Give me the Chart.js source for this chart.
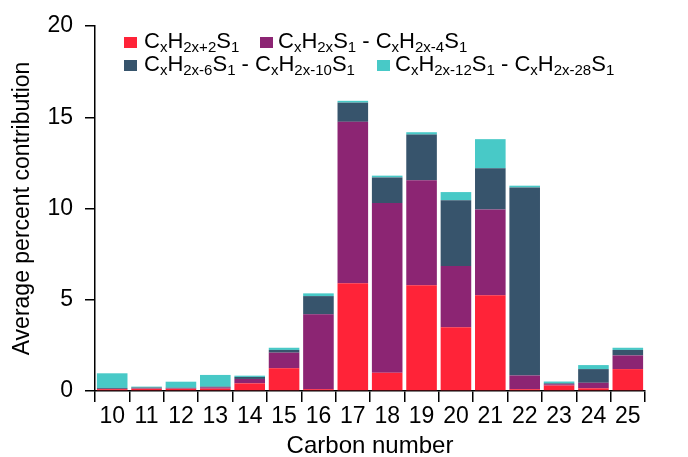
<!DOCTYPE html>
<html>
<head>
<meta charset="utf-8">
<script src="https://cdn.jsdelivr.net/npm/chart.js@4"></script>
<style>
  html, body { margin: 0; padding: 0; background: #fff; }
  #wrap { position: relative; width: 688px; height: 457px; }
  #legend { position: absolute; left: 0; top: 0; font-family: "Liberation Sans", Arial, sans-serif; color: #000; }
  .item { position: absolute; white-space: nowrap; font-size: 22px; line-height: 22px; }
  .item sub { font-size: 15px; vertical-align: -4px; line-height: 0; }
  .box { position: absolute; width: 13px; height: 11px; }
</style>
</head>
<body>
<div id="wrap">
  <canvas id="chart" width="688" height="457"></canvas>
  <div id="legend"></div>
</div>
<script>
// Carbon number categories
const carbonNumbers = ['10', '11', '12', '13', '14', '15', '16', '17', '18', '19', '20', '21', '22', '23', '24', '25'];

// Series names (HTML for subscripts) and colours
const seriesNames = [
  'C<sub>x</sub>H<sub>2x+2</sub>S<sub>1</sub>',
  'C<sub>x</sub>H<sub>2x</sub>S<sub>1</sub> - C<sub>x</sub>H<sub>2x-4</sub>S<sub>1</sub>',
  'C<sub>x</sub>H<sub>2x-6</sub>S<sub>1</sub> - C<sub>x</sub>H<sub>2x-10</sub>S<sub>1</sub>',
  'C<sub>x</sub>H<sub>2x-12</sub>S<sub>1</sub> - C<sub>x</sub>H<sub>2x-28</sub>S<sub>1</sub>'
];
const seriesColors = ['#FF2338', '#8C2573', '#37546C', '#48C9C7'];

// Average percent contribution per series (stacked bottom to top)
const saturated = [0.10, 0.12, 0.12, 0.13, 0.42, 1.25, 0.10, 5.90, 1.00, 5.80, 3.50, 5.25, 0.10, 0.30, 0.15, 1.20];
const dbe1to3   = [0.02, 0.02, 0.02, 0.07, 0.24, 0.85, 4.10, 8.85, 9.30, 5.75, 3.35, 4.70, 0.75, 0.07, 0.30, 0.75];
const dbe4to6   = [0.05, 0.05, 0.04, 0.04, 0.11, 0.15, 1.00, 1.05, 1.40, 2.50, 3.60, 2.25, 10.30, 0.05, 0.75, 0.30];
const dbe7to15  = [0.80, 0.05, 0.33, 0.64, 0.07, 0.12, 0.15, 0.10, 0.10, 0.13, 0.45, 1.60, 0.10, 0.10, 0.22, 0.12];

const yTicks = [0, 5, 10, 15, 20];

const seriesValues = [saturated, dbe1to3, dbe4to6, dbe7to15];

// Legend layout
const legendSlots = [
  { box: 124, text: 144, top: 30 },
  { box: 260, text: 278, top: 30 },
  { box: 124, text: 144, top: 53 },
  { box: 377, text: 395, top: 53 }
];

const legend = document.getElementById('legend');
legend.innerHTML = seriesNames.map((name, i) => {
  const s = legendSlots[i];
  return `<div class="box" style="left:${s.box}px;top:${s.top + 7}px;background:${seriesColors[i]}"></div>` +
         `<div class="item" style="left:${s.text}px;top:${s.top}px">${name}</div>`;
}).join('');

const font = 'Liberation Sans, Arial, sans-serif';

new Chart(document.getElementById('chart'), {
  type: 'bar',
  data: {
    labels: carbonNumbers,
    datasets: seriesValues.map((vals, i) => ({
      label: seriesNames[i].replace(/<[^>]+>/g, ''),
      data: vals,
      backgroundColor: seriesColors[i],
      borderWidth: 0,
      barPercentage: 0.89,
      categoryPercentage: 1.0,
    })),
  },
  options: {
    responsive: false,
    animation: false,
    layout: { padding: { top: 26, right: 43, left: 0, bottom: 0 } },
    plugins: { legend: { display: false }, tooltip: { enabled: false } },
    scales: {
      x: {
        stacked: true,
        afterFit: (s) => { s.height = 66; },
        grid: { drawOnChartArea: false, tickLength: 11, color: '#000', lineWidth: 1.5 },
        border: { color: '#000', width: 1.5 },
        ticks: { color: '#000', font: { family: font, size: 23 }, padding: 1, maxRotation: 0 },
        title: { display: true, text: 'Carbon number', color: '#000', font: { family: font, size: 24, lineHeight: 1 }, padding: { top: 0, bottom: -1 } },
      },
      y: {
        stacked: true,
        min: yTicks[0],
        max: yTicks[yTicks.length - 1],
        afterFit: (s) => { s.width = 95; },
        afterBuildTicks: (s) => { s.ticks = yTicks.map(v => ({ value: v })); },
        grid: { drawOnChartArea: false, tickLength: 10, color: '#000', lineWidth: 1.5 },
        border: { color: '#000', width: 1.5 },
        ticks: { color: '#000', font: { family: font, size: 23 }, padding: 12 },
        title: { display: true, text: 'Average percent contribution', color: '#000', font: { family: font, size: 23 }, padding: { top: 9, bottom: 0 } },
      },
    },
  },
});
</script>
</body>
</html>
